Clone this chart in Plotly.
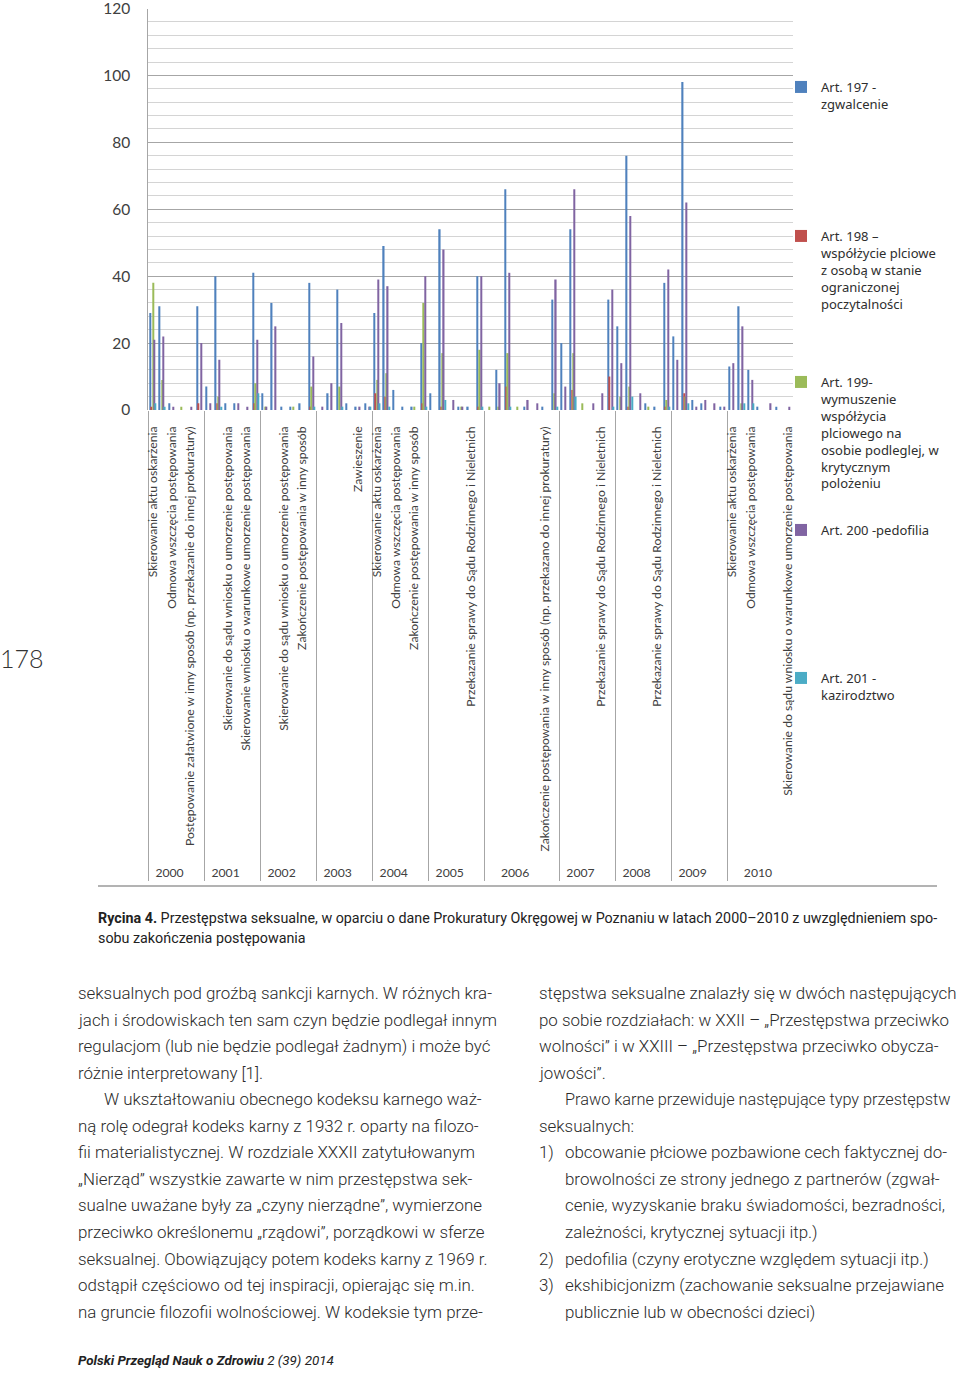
import plotly.graph_objects as go

# ---------------- data ----------------
years = ["2000", "2001", "2002", "2003", "2004", "2005", "2006", "2007", "2008", "2009", "2010"]
cats_per_year = [5, 6, 6, 7, 5, 6, 8, 6, 6, 7, 7]

# category labels (empty string = label skipped on the axis in the original)
categories = [
    # 2000
    "Skierowanie aktu oskarżenia", "", "Odmowa wszczęcia postępowania", "",
    "Postępowanie załatwione w inny sposób (np. przekazanie do innej prokuratury)",
    # 2001
    "", "Umorzenie", "", "Skierowanie do sądu wniosku o umorzenie postępowania", "",
    "Skierowanie wniosku o warunkowe umorzenie postępowania",
    # 2002
    "", "Umorzenie", "", "Skierowanie do sądu wniosku o umorzenie postępowania", "",
    "Zakończenie postępowania w inny sposób",
    # 2003
    "", "Skierowanie aktu oskarżenia", "", "Odmowa wszczęcia postępowania", "", "Zawieszenie", "",
    # 2004
    "Skierowanie aktu oskarżenia", "", "Odmowa wszczęcia postępowania", "",
    "Zakończenie postępowania w inny sposób",
    # 2005
    "", "Umorzenie", "", "Zawieszenie", "", "Przekazanie sprawy do Sądu Rodzinnego i Nieletnich",
    # 2006
    "", "Skierowanie aktu oskarżenia", "", "Odmowa wszczęcia postępowania", "",
    "Zakończenie postępowania w inny sposób (np. przekazano do innej prokuratury)", "",
    "Skierowanie do sądu wniosku o umorzenie postępowania",
    # 2007
    "", "Umorzenie", "", "Zawieszenie", "", "Przekazanie sprawy do Sądu Rodzinnego i Nieletnich",
    # 2008
    "", "Umorzenie", "", "Zawieszenie", "", "Przekazanie sprawy do Sądu Rodzinnego i Nieletnich",
    # 2009
    "", "Umorzenie", "", "Zawieszenie", "", "Przekazanie sprawy do Sądu Rodzinnego i Nieletnich", "",
    # 2010
    "Skierowanie aktu oskarżenia", "", "Odmowa wszczęcia postępowania", "", "Zawieszenie", "",
    "Skierowanie do sądu wniosku o warunkowe umorzenie postępowania",
]

art197 = [29, 31, 2, 0, 0, 31, 40, 7, 2, 2, 0, 41, 32, 5, 1, 1, 2, 0, 38, 36, 5, 2, 1, 2,
          29, 49, 6, 1, 1, 20, 54, 5, 1, 0, 1, 0, 40, 66, 12, 1, 1, 0, 0, 33, 54, 20, 0, 0, 0,
          33, 76, 25, 2, 0, 1, 38, 98, 22, 2, 3, 1, 0, 13, 31, 12, 1, 1, 0, 0]
art198 = [1, 0, 0, 0, 0, 2, 2, 0, 0, 0, 0, 2, 0, 0, 0, 0, 0, 0, 1, 0, 0, 0, 0, 0,
          5, 4, 0, 0, 0, 2, 1, 0, 0, 0, 0, 0, 1, 7, 0, 0, 0, 0, 0, 0, 6, 0, 0, 0, 0,
          10, 1, 0, 0, 0, 0, 1, 5, 0, 0, 0, 0, 0, 0, 0, 0, 0, 0, 0, 0]
art199 = [38, 9, 0, 1, 0, 0, 4, 0, 0, 0, 0, 8, 0, 1, 0, 1, 0, 0, 7, 7, 0, 0, 0, 0,
          9, 11, 0, 0, 1, 32, 17, 0, 1, 0, 0, 1, 18, 17, 1, 0, 0, 0, 1, 5, 17, 0, 0, 2, 0,
          0, 7, 4, 1, 0, 0, 3, 4, 0, 0, 0, 0, 0, 0, 2, 0, 0, 0, 0, 0]
art200 = [21, 22, 1, 0, 1, 20, 15, 2, 0, 2, 1, 21, 25, 1, 0, 0, 0, 1, 16, 26, 8, 0, 1, 1,
          39, 37, 0, 0, 0, 40, 48, 0, 1, 3, 0, 0, 40, 41, 8, 3, 0, 2, 0, 39, 66, 7, 2, 0, 5,
          36, 58, 14, 0, 5, 0, 42, 62, 15, 3, 1, 1, 2, 14, 25, 9, 0, 0, 2, 1]
art201 = [2, 1, 0, 0, 0, 0, 1, 0, 0, 0, 0, 5, 0, 0, 0, 0, 0, 0, 1, 1, 0, 0, 0, 1,
          2, 1, 0, 0, 0, 1, 3, 0, 0, 0, 0, 0, 1, 1, 0, 0, 0, 0, 0, 1, 4, 0, 0, 0, 0,
          1, 4, 0, 0, 0, 0, 1, 2, 0, 0, 0, 0, 0, 0, 2, 2, 0, 0, 0, 0]

series_names = [
    "Art. 197 -<br>zgwalcenie",
    "Art. 198 –<br>współżycie plciowe<br>z osobą w stanie<br>ograniczonej<br>poczytalności",
    "Art. 199-<br>wymuszenie<br>współżycia<br>plciowego na<br>osobie podleglej, w<br>krytycznym<br>polożeniu",
    "Art. 200 -pedofilia",
    "Art. 201 -<br>kazirodztwo",
]
series_values = [art197, art198, art199, art200, art201]
series_colors = ["#4F81BD", "#C0504D", "#9BBB59", "#8064A2", "#4BACC6"]

y_ticks = [0, 20, 40, 60, 80, 100, 120]

# ---------------- build multicategory axis ----------------
# skipped labels become invisible labels of equal width (non-breaking spaces,
# made unique with zero-width spaces); their width leaves room above the year row
year_axis = []
cat_axis = []
idx = 0
for y, n in zip(years, cats_per_year):
    blank = 0
    for _ in range(n):
        lab = categories[idx]
        if lab == "":
            blank += 1
            lab = "\u00a0" * 141 + "\u200b" * blank
        year_axis.append(y)
        cat_axis.append(lab)
        idx += 1

W, H = 960, 1373


def px(x):
    return x / W


def py(y):
    return 1 - y / H


fig = go.Figure()
legend_ids = ["legend", "legend2", "legend3", "legend4", "legend5"]
for name, vals, col, lg in zip(series_names, series_values, series_colors, legend_ids):
    fig.add_trace(go.Bar(x=[year_axis, cat_axis], y=vals, name=name, showlegend=True,
                         marker=dict(color=col, line=dict(width=0)), legend=lg,
                         hoverinfo="skip"))

legend_tops = [72, 221, 367, 515, 663]
leg_font = dict(family="Noto Sans", size=13, color="#2e2e2e")
legend_layout = {}
for lg, top in zip(legend_ids, legend_tops):
    legend_layout[lg] = dict(x=px(781), y=py(top), xanchor="left", yanchor="top",
                             font=leg_font, bgcolor="rgba(0,0,0,0)", valign="top",
                             itemclick=False, visible=True)

fig.update_layout(
    width=W, height=H,
    margin=dict(l=0, r=0, t=0, b=0, autoexpand=False),
    paper_bgcolor="white", plot_bgcolor="white",
    showlegend=True,
    barmode="group", bargap=0.3, bargroupgap=0,
    font=dict(family="Lato", color="#404040"),
    xaxis=dict(domain=[px(148.3), px(792.8)], tickangle=-90, automargin=False,
               tickfont=dict(family="Lato", size=12.2, color="#404040"),
               showgrid=False, ticks="", showdividers=True, ticklabelstandoff=13,
               dividercolor="#a6a6a6", dividerwidth=1, showline=False),
    yaxis=dict(domain=[py(410), py(8.5)], range=[0, 120], automargin=False,
               tickmode="array", tickvals=y_ticks, ticklabeloverflow="allow",
               tickfont=dict(family="Lato", size=15.5, color="#404040"),
               gridcolor="#a6a6a6", gridwidth=1,
               minor=dict(dtick=4, showgrid=True, gridcolor="#d4d4d4", gridwidth=1),
               showline=True, linecolor="#a6a6a6", linewidth=1, zeroline=False,
               ticklabelstandoff=14),
    **legend_layout,
)

# frame line under the chart
fig.add_shape(type="line", xref="paper", yref="paper", x0=px(98), x1=px(937),
              y0=py(886), y1=py(886), line=dict(color="#9a9a9a", width=1.5))

ann = []
# page number
ann.append(dict(text="178", x=px(-2), y=py(658), xanchor="left", yanchor="middle",
                font=dict(family="Lato", size=25, color="#333333", weight=300)))
# caption
cap_font = dict(family="Roboto", size=14.3, color="#222222")
ann.append(dict(text="<b>Rycina 4.</b> Przestępstwa seksualne, w oparciu o dane Prokuratury Okręgowej w Poznaniu w latach 2000–2010 z uwzględnieniem spo-",
                x=px(96), y=py(918), xanchor="left", yanchor="middle", font=cap_font))
ann.append(dict(text="sobu zakończenia postępowania",
                x=px(96), y=py(938), xanchor="left", yanchor="middle", font=cap_font))

left_lines = [
    (76, "seksualnych pod groźbą sankcji karnych. W różnych kra-"),
    (76, "jach i środowiskach ten sam czyn będzie podlegał innym"),
    (76, "regulacjom (lub nie będzie podlegał żadnym) i może być"),
    (76, "różnie interpretowany [1]."),
    (102, "W ukształtowaniu obecnego kodeksu karnego waż-"),
    (76, "ną rolę odegrał kodeks karny z 1932 r. oparty na filozo-"),
    (76, "fii materialistycznej. W rozdziale XXXII zatytułowanym"),
    (76, "„Nierząd” wszystkie zawarte w nim przestępstwa sek-"),
    (76, "sualne uważane były za „czyny nierządne”, wymierzone"),
    (76, "przeciwko określonemu „rządowi”, porządkowi w sferze"),
    (76, "seksualnej. Obowiązujący potem kodeks karny z 1969 r."),
    (76, "odstąpił częściowo od tej inspiracji, opierając się m.in."),
    (76, "na gruncie filozofii wolnościowej. W kodeksie tym prze-"),
]
right_lines = [
    (537, "stępstwa seksualne znalazły się w dwóch następujących"),
    (537, "po sobie rozdziałach: w XXII – „Przestępstwa przeciwko"),
    (537, "wolności” i w XXIII – „Przestępstwa przeciwko obycza-"),
    (537, "jowości”."),
    (563, "Prawo karne przewiduje następujące typy przestępstw"),
    (537, "seksualnych:"),
    (563, "obcowanie płciowe pozbawione cech faktycznej do-"),
    (563, "browolności ze strony jednego z partnerów (zgwał-"),
    (563, "cenie, wyzyskanie braku świadomości, bezradności,"),
    (563, "zależności, krytycznej sytuacji itp.)"),
    (563, "pedofilia (czyny erotyczne względem sytuacji itp.)"),
    (563, "ekshibicjonizm (zachowanie seksualne przejawiane"),
    (563, "publicznie lub w obecności dzieci)"),
]
list_marks = [(6, "1)"), (10, "2)"), (11, "3)")]
body_font = dict(family="Roboto", size=16.9, color="#2a2a2a", weight=300)
tight_font = dict(family="Roboto", size=16.3, color="#2a2a2a", weight=300)
y0, dy = 993, 26.55
for i, (x, t) in enumerate(left_lines):
    ann.append(dict(text=t, x=px(x), y=py(y0 + i * dy), xanchor="left", yanchor="middle", font=body_font))
for i, (x, t) in enumerate(right_lines):
    f = tight_font if i == 4 else body_font
    ann.append(dict(text=t, x=px(x), y=py(y0 + i * dy), xanchor="left", yanchor="middle", font=f))
for i, t in list_marks:
    ann.append(dict(text=t, x=px(537), y=py(y0 + i * dy), xanchor="left", yanchor="middle", font=body_font))

# footer
ann.append(dict(text="<b><i>Polski Przegląd Nauk o Zdrowiu</i></b><i> 2 (39) 2014</i>",
                x=px(76), y=py(1360), xanchor="left", yanchor="middle",
                font=dict(family="Roboto", size=13.4, color="#222222")))

for a in ann:
    a.update(xref="paper", yref="paper", showarrow=False)
fig.update_layout(annotations=ann)

fig.write_html("out.html", config={"displayModeBar": False},
               post_script="document.body.style.margin='0px';")
